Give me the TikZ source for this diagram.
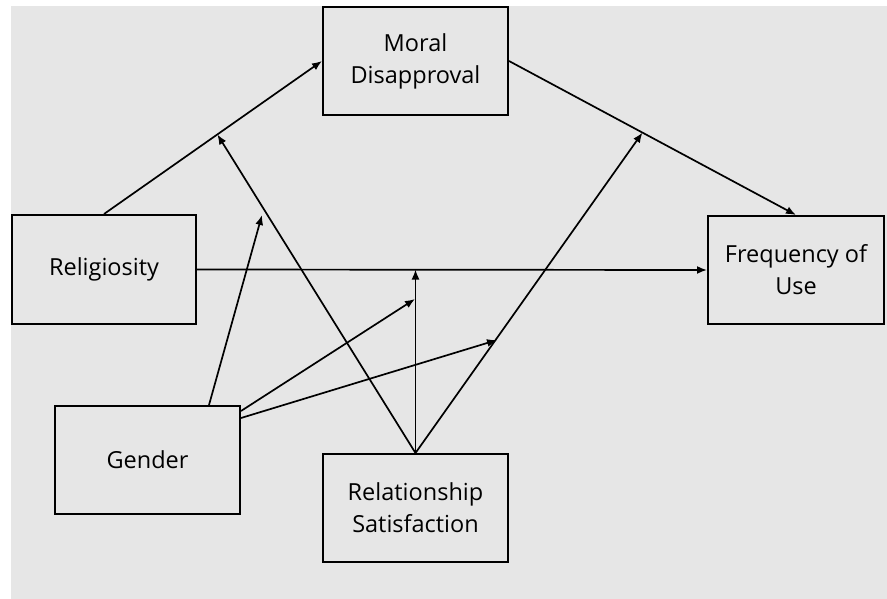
\documentclass[tikz,border=0pt]{standalone}
\usepackage{fontspec}
\setmainfont{Open Sans}
\usepackage{tikz}
\usepackage{xcolor}
\usetikzlibrary{arrows.meta}
\usetikzlibrary{calc}

\definecolor{panelgray}{HTML}{E6E6E6}

\begin{document}
\begin{tikzpicture}[x=1pt, y=-1pt]
    % Style definitions
    \tikzset{
        var/.style={draw=black, line width=2pt, minimum width=185pt, minimum height=108pt,
            align=center, inner sep=0pt, font=\fontsize{23.5}{32}\selectfont},
        path/.style={black, line width=1.7pt, -{Latex[length=10pt, width=8pt]}}
    }

    % ==========================================
    % PANEL
    % ==========================================
    \useasboundingbox (0, 0) rectangle (887, 599);
    \fill[panelgray] (11, 6) rectangle (887, 599);

    % ==========================================
    % VARIABLES
    % ==========================================
    \node[var] (moral) at (415.5, 61) {Moral\\Disapproval};
    \node[var, minimum width=184pt, minimum height=109pt] (relig) at (104, 269.5) {Religiosity};
    \node[var, minimum width=176pt] (freq) at (796, 270) {Frequency of\\Use};
    \node[var] (gender) at (147.5, 460) {Gender};
    \node[var] (relsat) at (415.5, 508) {Relationship\\Satisfaction};

    % Points where the moderating arrows end
    \coordinate (modA) at ($(relig.north)!0.52!(moral.west)$);
    \coordinate (modB) at (262, 215);
    \coordinate (modC) at (relsat.north |- relig.east);
    \coordinate (modD) at ($(moral.east)!0.465!(freq.north)$);
    \coordinate (modE) at (415, 299);
    \coordinate (modF) at (497, 340);

    % ==========================================
    % MAIN PATHS
    % ==========================================
    \draw[path] (relig.north) -- (moral.west);
    \draw[path] (moral.east) -- (freq.north);
    \draw[path] (relig.east) -- (freq.west);

    % ==========================================
    % MODERATION BY RELATIONSHIP SATISFACTION
    % ==========================================
    \draw[path] (relsat.north) -- (modA);
    \draw[path] (relsat.north) -- (modC);
    \draw[path] (relsat.north) -- (modD);

    % ==========================================
    % MODERATION BY GENDER
    % ==========================================
    \draw[path] ([xshift=-32pt]gender.north east) -- (modB);
    \draw[path] ([yshift=-6pt]gender.north east) -- (modE);
    \draw[path] ([yshift=-13pt]gender.north east) -- (modF);
\end{tikzpicture}
\end{document}
